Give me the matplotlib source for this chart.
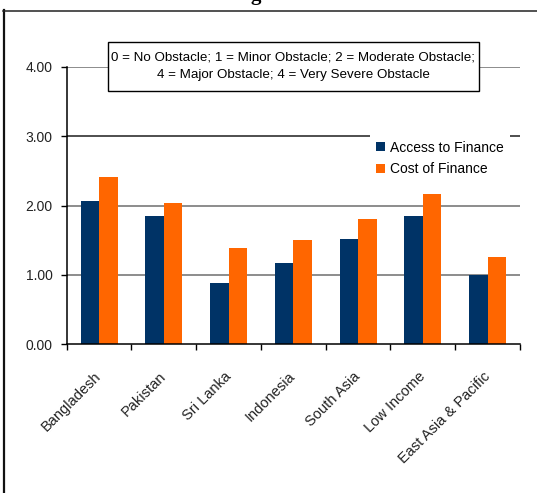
import matplotlib
matplotlib.use("Agg")
import matplotlib.pyplot as plt
from matplotlib.lines import Line2D
from matplotlib.patches import Rectangle
import numpy as np

plt.rcParams['font.family'] = ['Liberation Sans', 'DejaVu Sans']

categories = ["Bangladesh", "Pakistan", "Sri Lanka", "Indonesia",
              "South Asia", "Low Income", "East Asia & Pacific"]
access_to_finance = [2.06, 1.85, 0.88, 1.17, 1.52, 1.85, 1.00]
cost_of_finance = [2.41, 2.03, 1.39, 1.50, 1.80, 2.17, 1.26]
series_names = ["Access to Finance", "Cost of Finance"]
y_ticks = [0, 1, 2, 3, 4]
scale_note = ("0 = No Obstacle; 1 = Minor Obstacle; 2 = Moderate Obstacle;\n"
              "4 = Major Obstacle; 4 = Very Severe Obstacle")

NAVY = "#003366"
ORANGE = "#FF6600"

fig = plt.figure(figsize=(5.37, 4.93), dpi=100)
ax = fig.add_axes([66.7 / 537, 149 / 493, 453.3 / 537, 277 / 493])

x = np.arange(len(categories))
w = 0.285
ax.bar(x - w / 2, access_to_finance, width=w, color=NAVY, label=series_names[0], zorder=3)
ax.bar(x + w / 2, cost_of_finance, width=w, color=ORANGE, label=series_names[1], zorder=3)

ax.set_xlim(-0.5, len(categories) - 0.5)
ax.set_ylim(0, 4)
ax.set_yticks(y_ticks)
ax.set_yticklabels([f"{v:.2f}" for v in y_ticks])
grid_colors = {1: "#6e6e6e", 2: "#6e6e6e", 3: "#1e1e1e", 4: "#6e6e6e"}
for v in y_ticks[1:]:
    ax.axhline(v, color=grid_colors[v], lw=1.1, zorder=1)

ax.set_xticks(x)
ax.set_xticklabels(categories, rotation=45, ha="right", va="center", rotation_mode="anchor")
ax.set_xticks(np.arange(-0.5, len(categories)), minor=True)
ax.tick_params(axis="x", which="major", length=0, pad=22, labelsize=10.5, colors="#222222")
ax.tick_params(axis="x", which="minor", length=4, width=1, color="black", direction="out")
ax.tick_params(axis="y", length=4, width=1, pad=6, labelsize=10, labelcolor="#222222")

for s in ["top", "right"]:
    ax.spines[s].set_visible(False)
for s in ["left", "bottom"]:
    ax.spines[s].set_linewidth(1.1)
    ax.spines[s].set_zorder(4)

leg = ax.legend(loc="upper left", bbox_to_anchor=(0.669, 0.757), frameon=True,
                fancybox=False, edgecolor="none", facecolor="white", framealpha=1,
                fontsize=10, handlelength=0.6, handleheight=0.6, handletextpad=0.4,
                labelspacing=0.55, borderpad=0.45, borderaxespad=0)
leg.set_zorder(5)

# scale note in a framed box straddling the top of the plot area
ax.add_patch(Rectangle((0.0911, 0.9134), 0.8185, 0.1769, transform=ax.transAxes,
                       facecolor="white", edgecolor="black", lw=1, zorder=6,
                       clip_on=False))
ax.text(0.5, 1.0018, scale_note, transform=ax.transAxes, ha="center", va="center",
        multialignment="center", fontsize=9.6, linespacing=1.6, zorder=7)

# outer frame and clipped heading
fig.add_artist(Line2D([3.5 / 537, 3.5 / 537], [0, 1 - 10 / 493], transform=fig.transFigure,
                      color="#111111", lw=1.6))
fig.add_artist(Line2D([3 / 537, 1], [1 - 11 / 493, 1 - 11 / 493], transform=fig.transFigure,
                      color="#222222", lw=1.1))
fig.text(256 / 537, 1.0, "g", fontsize=15, fontweight="bold", family="Liberation Serif",
         ha="center", va="baseline")

fig.savefig("out.png", dpi=100, facecolor="white")
